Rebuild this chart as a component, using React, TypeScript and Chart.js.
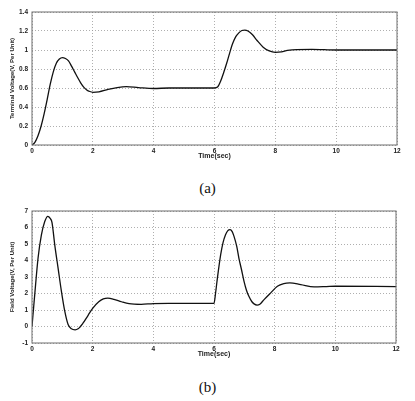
import React, { useEffect, useRef } from 'react'
import Chart from 'chart.js/auto'

// (a) terminal voltage response
const termTime = [
  0, 0.1, 0.2, 0.3, 0.4, 0.5, 0.6, 0.7, 0.8, 0.9, 1.0, 1.1, 1.2, 1.3, 1.4, 1.5, 1.6, 1.7, 1.8, 1.9,
  2.0, 2.2, 2.5, 2.8, 3.1, 3.5, 4.0, 4.5, 6.0, 6.1, 6.2, 6.3, 6.4, 6.5, 6.6, 6.7, 6.8, 6.9, 7.0, 7.1,
  7.25, 7.4, 7.6, 7.8, 8.0, 8.2, 8.4, 8.7, 9.2, 10, 12,
]
const termVoltage = [
  0, 0.03, 0.1, 0.2, 0.33, 0.48, 0.64, 0.77, 0.86, 0.905, 0.92, 0.91, 0.885, 0.83, 0.77, 0.71, 0.655,
  0.61, 0.58, 0.563, 0.555, 0.56, 0.585, 0.605, 0.615, 0.605, 0.595, 0.6, 0.6, 0.61, 0.67, 0.76,
  0.86, 0.97, 1.07, 1.14, 1.18, 1.205, 1.21, 1.2, 1.16, 1.1, 1.03, 0.99, 0.975, 0.98, 0.995, 1.005,
  1.007, 1.0, 1.0,
]

// (b) field voltage response
const fieldTime = [
  0, 0.09, 0.2, 0.31, 0.42, 0.52, 0.6, 0.66, 0.75, 0.86, 0.97, 1.08, 1.19, 1.3, 1.42, 1.52, 1.68,
  1.85, 2.0, 2.2, 2.35, 2.5, 2.7, 2.95, 3.2, 3.6, 4.0, 4.5, 6.0, 6.05, 6.11, 6.22, 6.3, 6.38, 6.45,
  6.53, 6.6, 6.66, 6.75, 6.82, 6.9, 6.99, 7.07, 7.15, 7.25, 7.32, 7.42, 7.5, 7.65, 7.87, 8.09, 8.3,
  8.5, 8.86, 9.3, 9.7, 10, 12,
]
const fieldVoltage = [
  0, 1.93, 4.15, 5.55, 6.36, 6.68, 6.55, 6.3, 4.95, 3.54, 2.13, 0.93, 0.12, -0.14, -0.2, -0.14, 0.2,
  0.68, 1.1, 1.5, 1.67, 1.72, 1.65, 1.5, 1.38, 1.34, 1.39, 1.4, 1.4, 2.0, 2.9, 4.35, 5.1, 5.56, 5.8,
  5.87, 5.75, 5.46, 4.85, 4.15, 3.5, 2.74, 2.2, 1.83, 1.5, 1.37, 1.3, 1.33, 1.63, 2.04, 2.44, 2.6,
  2.64, 2.54, 2.4, 2.42, 2.44, 2.42,
]

const tickFont = { family: "'Liberation Sans', Arial, sans-serif", size: 6.5, weight: 'bold' as const }
const gridColor = '#9a9a9a'

const framePlugin = {
  id: 'frame',
  afterDraw(chart: any) {
    const { ctx, chartArea } = chart
    ctx.save()
    ctx.strokeStyle = '#6e6e6e'
    ctx.lineWidth = 1
    ctx.strokeRect(chartArea.left, chartArea.top, chartArea.right - chartArea.left, chartArea.bottom - chartArea.top)
    ctx.restore()
  },
}

type Props = {
  time: number[]
  values: number[]
  yMin: number
  yMax: number
  yStep: number
  yTitle: string
  padTop: number
  padRight: number
}

const Plot = ({ time, values, yMin, yMax, yStep, yTitle, padTop, padRight }: Props) => {
  const chartRef = useRef<HTMLCanvasElement>(null)

  useEffect(() => {
    const chart = new Chart(chartRef.current!, {
      type: 'line',
      data: {
        datasets: [
          {
            data: time.map((t, i) => ({ x: t, y: values[i] })),
            borderColor: '#111',
            borderWidth: 1.3,
            pointRadius: 0,
            fill: false,
            cubicInterpolationMode: 'monotone',
          },
        ],
      },
      options: {
        animation: false,
        responsive: false,
        layout: { padding: { top: padTop, right: padRight, left: 0, bottom: 10 } },
        plugins: { legend: { display: false }, tooltip: { enabled: false } },
        scales: {
          x: {
            type: 'linear',
            min: 0,
            max: 12,
            ticks: { stepSize: 2, font: tickFont, color: '#222', padding: 2, maxRotation: 0 },
            grid: { color: gridColor, drawTicks: false, lineWidth: 0.8 },
            border: { display: false, dash: [1, 2] },
            title: {
              display: true,
              text: 'Time(sec)',
              font: { family: "'Liberation Sans', Arial, sans-serif", size: 7, weight: 'bold' },
              color: '#222',
              padding: { top: 0, bottom: 0 },
            },
            afterFit: (scale: any) => {
              scale.height = 15
            },
          },
          y: {
            min: yMin,
            max: yMax,
            ticks: {
              stepSize: yStep,
              font: tickFont,
              color: '#222',
              padding: 4,
              callback: (v: any) => String(Number(Number(v).toFixed(1))),
            },
            grid: { color: gridColor, drawTicks: false, lineWidth: 0.8 },
            border: { display: false, dash: [1, 2] },
            title: {
              display: true,
              text: yTitle,
              font: { family: "'Liberation Sans Narrow', 'Liberation Sans', Arial, sans-serif", size: 6, weight: 'bold' },
              color: '#222',
              padding: { top: 9, bottom: 0 },
            },
            afterFit: (scale: any) => {
              scale.width = 32
            },
          },
        },
      },
      plugins: [framePlugin],
    })
    return () => chart.destroy()
  }, [])

  return <canvas ref={chartRef} width={415} height={170} />
}

const captionStyle: React.CSSProperties = {
  position: 'absolute',
  left: 0,
  width: 415,
  textAlign: 'center',
  fontFamily: "'Liberation Serif', 'Times New Roman', serif",
  fontSize: 15,
  color: '#111',
  lineHeight: '16px',
}

const App = () => {
  return (
    <div style={{ position: 'absolute', left: 0, top: 0, width: 415, height: 401, background: '#fff' }}>
      <div style={{ position: 'absolute', left: 0, top: 0 }}>
        <Plot
          time={termTime}
          values={termVoltage}
          yMin={0}
          yMax={1.4}
          yStep={0.2}
          yTitle="Terminal Voltage(V, Per Unit)"
          padTop={12}
          padRight={18}
        />
      </div>
      <div style={{ ...captionStyle, top: 180 }}>(a)</div>
      <div style={{ position: 'absolute', left: 0, top: 198 }}>
        <Plot
          time={fieldTime}
          values={fieldVoltage}
          yMin={-1}
          yMax={7}
          yStep={1}
          yTitle="Field Voltage(V, Per Unit)"
          padTop={13}
          padRight={19}
        />
      </div>
      <div style={{ ...captionStyle, top: 379 }}>(b)</div>
    </div>
  )
}

export default App
